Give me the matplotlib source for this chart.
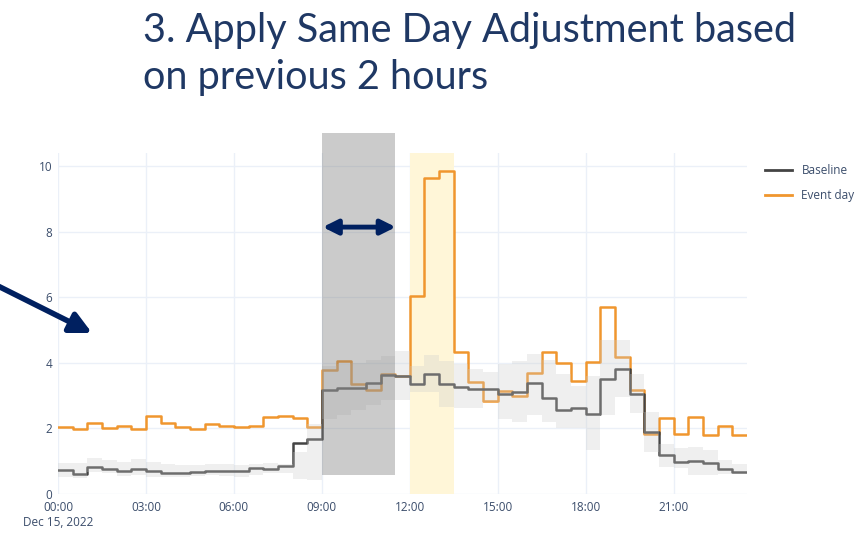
import numpy as np
import matplotlib
matplotlib.use('Agg')
import matplotlib.pyplot as plt
from matplotlib.patches import Rectangle
from matplotlib.lines import Line2D

# half-hour steps, 00:00 .. 23:00
event_day = [2.03, 1.97, 2.18, 2.02, 2.08, 1.98, 2.37, 2.18, 2.03, 1.97, 2.13, 2.07,
             2.03, 2.07, 2.34, 2.38, 2.33, 2.03, 3.77, 4.06, 3.36, 3.18, 3.67, 3.60,
             6.03, 9.64, 9.86, 4.32, 3.43, 2.84, 3.13, 2.98, 3.68, 4.32, 4.00, 3.45,
             4.02, 5.69, 4.19, 3.17, 1.83, 2.33, 1.83, 2.36, 1.79, 2.07, 1.81]
baseline = [0.73, 0.61, 0.81, 0.76, 0.71, 0.76, 0.71, 0.64, 0.64, 0.68, 0.70, 0.69,
            0.70, 0.78, 0.75, 0.86, 1.57, 1.68, 3.17, 3.22, 3.22, 3.39, 3.64, 3.60,
            3.36, 3.67, 3.34, 3.26, 3.19, 3.19, 3.05, 3.10, 3.40, 2.92, 2.57, 2.61,
            2.44, 3.51, 3.80, 3.06, 1.88, 1.19, 0.98, 1.00, 0.94, 0.76, 0.68]
band_upper = [0.95, 0.95, 1.09, 1.04, 0.99, 1.06, 0.99, 0.91, 0.88, 0.88, 0.90, 0.91,
              0.88, 0.93, 0.95, 0.93, 1.29, 2.15, 3.90, 3.95, 4.00, 4.10, 4.20, 4.35,
              3.90, 4.25, 4.05, 3.95, 3.82, 3.72, 3.95, 4.05, 4.28, 4.10, 3.65, 3.30,
              3.60, 4.69, 4.69, 3.66, 2.51, 1.52, 1.40, 1.44, 1.35, 1.05, 0.90]
band_lower = [0.51, 0.48, 0.68, 0.63, 0.55, 0.58, 0.53, 0.51, 0.53, 0.55, 0.58, 0.55,
              0.51, 0.58, 0.63, 0.65, 0.45, 0.43, 2.28, 2.40, 2.55, 2.70, 2.88, 2.88,
              3.10, 3.10, 2.65, 2.62, 2.62, 2.80, 2.30, 2.20, 2.40, 2.20, 2.00, 2.00,
              1.33, 2.40, 2.97, 2.47, 1.29, 0.83, 0.80, 0.58, 0.57, 0.62, 0.62]

tick_hours = [0, 3, 6, 9, 12, 15, 18, 21]
tick_labels = ['00:00\nDec 15, 2022', '03:00', '06:00', '09:00', '12:00', '15:00', '18:00', '21:00']
y_ticks = [0, 2, 4, 6, 8, 10]

title = '3. Apply Same Day Adjustment based\non previous 2 hours'

navy = '#002060'
orange = '#f0962e'
tick_color = '#3b4d6b'

def ext(v):
    return list(v) + [v[-1]]

x = np.arange(len(event_day) + 1) * 0.5

fig = plt.figure(figsize=(8.59, 5.34), dpi=100)
ax = fig.add_axes([58 / 859, 40 / 534, 689 / 859, 341 / 534])

ax.axvspan(12.0, 13.5, color='#fff6d8', zorder=1, lw=0)
ax.step(x, ext(event_day), where='post', color=orange, lw=1.8, zorder=2)
ax.step(x, ext(baseline), where='post', color='#444444', lw=1.8, zorder=2)
ax.fill_between(x, ext(band_lower), ext(band_upper), step='post',
                color='#cccccc', alpha=0.3, lw=0, zorder=3)

ax.add_patch(Rectangle((9.0, 0.58), 2.5, 11.0 - 0.58, color='#7f7f7f', alpha=0.4,
                       lw=0, zorder=4, clip_on=False))
ax.annotate('', xy=(11.52, 8.14), xytext=(9.03, 8.14),
            arrowprops=dict(arrowstyle='<|-|>', color=navy, lw=3.5,
                            mutation_scale=22, shrinkA=0, shrinkB=0), zorder=5)

ax.set_xlim(0, 23.5)
ax.set_ylim(0, 10.4)
ax.set_xticks(tick_hours)
ax.set_xticklabels(tick_labels, fontsize=8.5, color=tick_color, family='Open Sans')
ax.set_yticks(y_ticks)
ax.set_yticklabels([str(v) for v in y_ticks], fontsize=8.5, color=tick_color, family='Open Sans')
ax.tick_params(axis='x', length=0, pad=5)
ax.tick_params(axis='y', length=0, pad=4)
ax.grid(True, color='#ebf0f8', lw=1, zorder=0)
ax.set_axisbelow(True)
for s in ax.spines.values():
    s.set_visible(False)

handles = [Line2D([], [], color='#444444', lw=2), Line2D([], [], color=orange, lw=2)]
fig.legend(handles, ['Baseline', 'Event day'], loc='upper left',
           bbox_to_anchor=(0.878, 0.712), frameon=False, handlelength=2.3,
           labelspacing=0.95, prop={'family': 'Open Sans', 'size': 8.5}, labelcolor=tick_color)

fig.text(143 / 859, 1 - 12 / 534, title, ha='left', va='top', fontsize=28.5,
         family='Lato', color='#1f3864', linespacing=1.33)

ax.annotate('', xy=(92 / 859, 1 - 333 / 534), xytext=(-2 / 859, 1 - 286 / 534),
            xycoords='figure fraction', textcoords='figure fraction',
            arrowprops=dict(arrowstyle='-|>', color=navy, lw=4, mutation_scale=32,
                            shrinkA=0, shrinkB=0))

fig.savefig('out.png', dpi=100)
